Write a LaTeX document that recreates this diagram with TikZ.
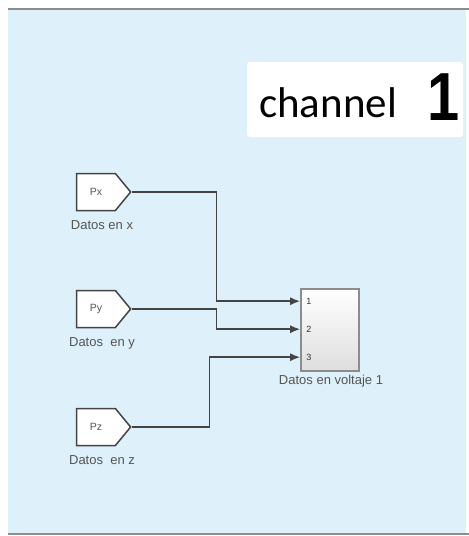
\documentclass[tikz,border=0pt]{standalone}
\usepackage{fontspec}
\setmainfont{Liberation Sans}
\newfontfamily\titlefont{Carlito}
\newfontfamily\numfont{Liberation Sans}[UprightFont={* Bold}]
\usetikzlibrary{shapes.symbols,arrows.meta,calc}
\definecolor{canvas}{RGB}{222,240,249}
\definecolor{wire}{RGB}{68,68,68}
\definecolor{ink}{RGB}{85,85,85}
\definecolor{rim}{RGB}{140,140,140}
\begin{document}
\begin{tikzpicture}[x=1pt,y=-1pt,
  fromtag/.style={signal, signal to=east, signal pointer angle=101,
    minimum width=54pt, minimum height=37pt, inner sep=0pt,
    draw=wire, line width=1.5pt, fill=white, text=ink,
    font=\fontsize{10.5}{11}\selectfont},
  caption/.style={text=ink, font=\fontsize{13}{13}\selectfont, inner sep=0pt},
  wireline/.style={draw=wire, line width=1.6pt},
  feed/.style={wireline, -{Latex[length=10pt,width=8pt]}},
  portlabel/.style={anchor=west, inner sep=0pt, text=black!80, font=\fontsize{9}{9}\selectfont}]
\useasboundingbox (0,0) rectangle (469,536);
% sheet and its frame lines
\fill[white] (0,0) rectangle (469,536);
\fill[canvas] (8,10) rectangle (466,533);
\draw[rim, line width=2pt] (8,9) -- (469,9);
\draw[rim, line width=2pt] (8,534) -- (469,534);

% title box
\node[fill=white, rounded corners=3pt, minimum width=216pt, minimum height=75pt, inner sep=0pt] (title) at (355,99.5) {};
\node[anchor=base west, inner sep=0pt] (titletxt) at (259,117) {\titlefont\fontsize{43}{43}\selectfont channel};
\node[anchor=base west, inner sep=0pt, xscale=0.85] (titlenum) at (427,120) {\numfont\fontsize{68}{68}\selectfont 1};

% goto/from tags
\node[fromtag] (px) at (96,192) {Px};
\node[fromtag] (py) at (96,309) {Py};
\node[fromtag] (pz) at (96,427) {Pz};
\node[caption] (lx) at (102,225) {Datos en x};
\node[caption] (ly) at (102,343) {Datos~ en y};
\node[caption] (lz) at (102,460) {Datos~ en z};

% subsystem block
\node[draw=rim, line width=1.6pt, top color=white, bottom color=black!13,
      minimum width=58pt, minimum height=82pt, inner sep=0pt] (blk) at (330,330) {};
\node[caption] (lb) at (331,381) {Datos en voltaje 1};
\coordinate (in1) at ($(blk.north west)+(0,13)$);
\coordinate (in2) at ($(blk.north west)+(0,41)$);
\coordinate (in3) at ($(blk.north west)+(0,69)$);
\node[portlabel] (p1) at ($(in1)+(6,0)$) {1};
\node[portlabel] (p2) at ($(in2)+(6,0)$) {2};
\node[portlabel] (p3) at ($(in3)+(6,0)$) {3};

% signal wires
\draw[feed] (px.east) -- ++(85,0) |- (in1);
\draw[feed] (py.east) -- ++(85,0) |- (in2);
\draw[feed] (pz.east) -- ++(78,0) |- (in3);
\end{tikzpicture}
\end{document}
